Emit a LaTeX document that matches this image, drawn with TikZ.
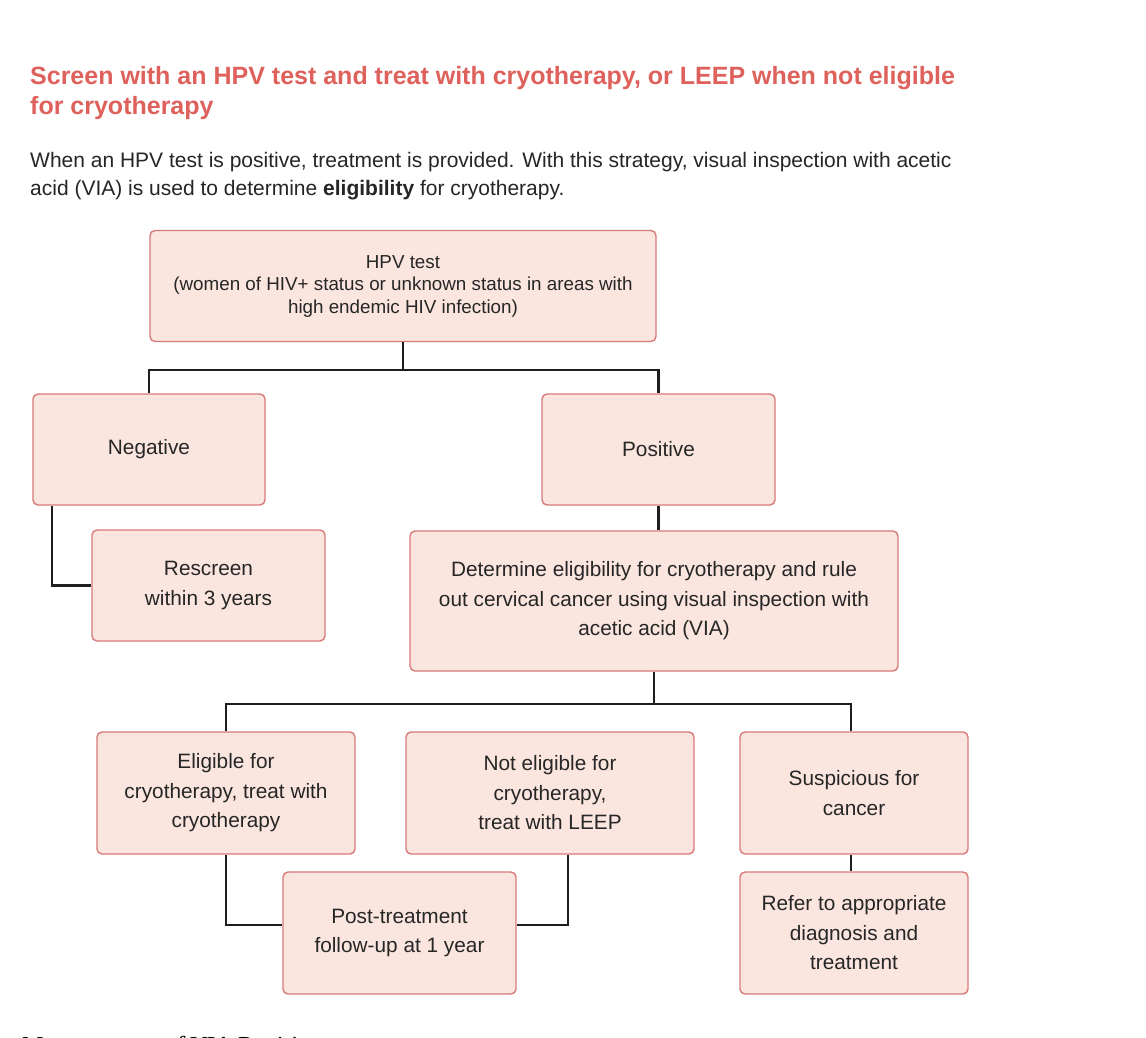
\documentclass[tikz,border=0pt]{standalone}
\usepackage{fontspec}
\setmainfont{Liberation Sans}
\newfontfamily\serifit{Liberation Serif}
\usetikzlibrary{calc}
\definecolor{boxfill}{RGB}{251,230,223}
\definecolor{boxline}{RGB}{214,122,122}
\definecolor{titlecol}{RGB}{222,97,92}
\definecolor{linecol}{RGB}{30,30,30}
\tikzset{
  box/.style={draw=boxline, fill=boxfill, line width=1.4bp, rounded corners=5bp,
    rectangle, align=center, inner sep=0pt, text=black!85,
    font=\fontsize{20.8bp}{29.5bp}\selectfont},
  conn/.style={draw=linecol, line width=2.4bp},
  titletext/.style={anchor=base west, inner sep=0pt, text=titlecol,
    font=\fontsize{25bp}{30bp}\selectfont\bfseries},
  bodytext/.style={anchor=base west, inner sep=0pt, text=black!85,
    font=\fontsize{21bp}{28bp}\selectfont},
}
\begin{document}
\begin{tikzpicture}[x=1bp, y=-1bp]
\useasboundingbox (0,0) rectangle (1146,1038);
\clip (0,0) rectangle (1146,1038);
\fill[white] (0,0) rectangle (1146,1038);

\node[titletext] (t1) at (30,84) {Screen with an HPV test and treat with cryotherapy, or LEEP when not eligible};
\node[titletext] (t2) at (30,114) {for cryotherapy};
\node[bodytext] (b1) at (30,167) {When an HPV test is positive, treatment is provided. With this strategy, visual inspection with acetic};
\node[bodytext] (b2) at (30,195) {acid (VIA) is used to determine \textbf{eligibility} for cryotherapy.};

\node[box, minimum width=506bp, minimum height=111bp, font=\fontsize{18.8bp}{22.5bp}\selectfont] (hpv) at (403,286)
  {HPV test\\(women of HIV+ status or unknown status in areas with\\high endemic HIV infection)};
\node[box, minimum width=232bp, minimum height=111bp] (neg) at (149,449.5) {Negative};
\node[box, minimum width=233bp, minimum height=111bp] (pos) at (658.5,449.5) {Positive};
\node[box, minimum width=233bp, minimum height=111bp] (res) at (208.5,585.5) {Rescreen\\within 3 years};
\node[box, minimum width=488bp, minimum height=140bp] (det) at (654,601)
  {Determine eligibility for cryotherapy and rule\\out cervical cancer using visual inspection with\\acetic acid (VIA)};
\node[box, minimum width=258bp, minimum height=122bp] (eli) at (226,793)
  {Eligible for\\cryotherapy, treat with\\cryotherapy};
\node[box, minimum width=288bp, minimum height=122bp] (not) at (550,793)
  {Not eligible for\\cryotherapy,\\treat with LEEP};
\node[box, minimum width=228bp, minimum height=122bp] (sus) at (854,793)
  {Suspicious for\\cancer};
\node[box, minimum width=233bp, minimum height=122bp] (post) at (399.5,933)
  {Post-treatment\\follow-up at 1 year};
\node[box, minimum width=228bp, minimum height=122bp] (ref) at (854,933)
  {Refer to appropriate\\diagnosis and\\treatment};

\coordinate (j1) at ($(hpv.south)+(0,28)$);
\coordinate (j2) at ($(det.south)+(0,32)$);

\draw[conn] (hpv.south) -- (j1);
\draw[conn] (neg.north) |- (j1) -| (pos.north);
\draw[conn] ($(neg.south west)+(20,0)$) |- (res.west);
\draw[conn] (pos.south) -- (pos.south |- det.north);
\draw[conn] (det.south) -- (j2);
\draw[conn] (eli.north) |- (j2) -| ($(sus.north)+(-3,0)$);
\draw[conn] ($(not.north)+(18,0)$) -- ($(not.north)+(18,0)$ |- j2);
\draw[conn] (eli.south) |- ($(post.west)+(0,-8)$);
\draw[conn] ($(not.south)+(18,0)$) |- ($(post.east)+(0,-8)$);
\draw[conn] ($(sus.south)+(-3,0)$) -- ($(ref.north)+(-3,0)$);

\node[anchor=base west, inner sep=0pt, font=\serifit\itshape\fontsize{26bp}{30bp}\selectfont] (foot) at (20,1054) {Management of VIA Positive};
\end{tikzpicture}
\end{document}
